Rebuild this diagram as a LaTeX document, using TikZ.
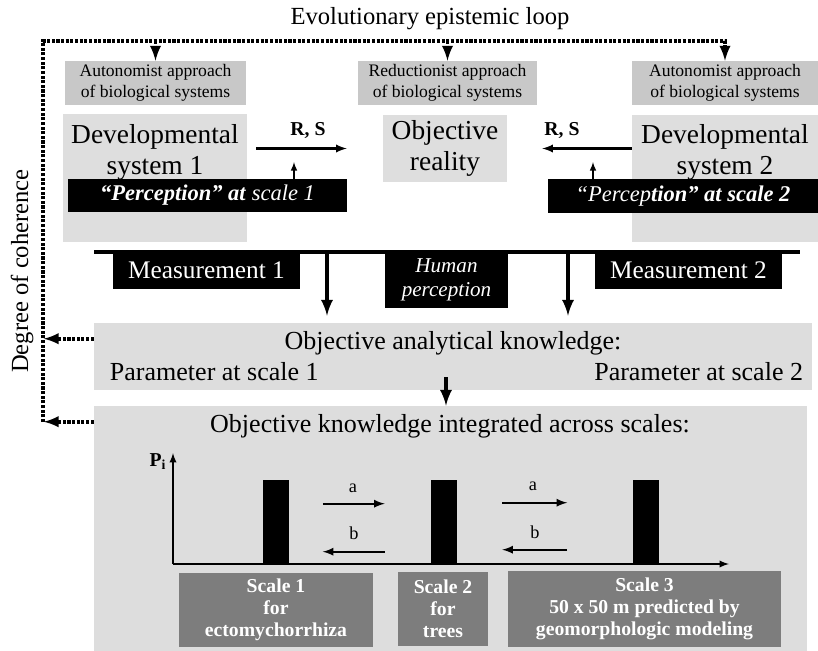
\documentclass[tikz,border=0pt]{standalone}
\usepackage{fontspec}
\setmainfont{Liberation Serif}
\newlength\pxu
\setlength\pxu{0.025cm}
\definecolor{apprgray}{RGB}{200,200,200}
\definecolor{devgray}{RGB}{222,222,222}
\definecolor{knowgray}{RGB}{221,221,221}
\definecolor{scalegray}{RGB}{125,125,125}
\tikzset{
  apprbox/.style={fill=apprgray, inner sep=0pt, align=center, font=\fontsize{12.5}{15}\selectfont},
  devbox/.style={fill=devgray, inner sep=0pt},
  bigtext/.style={align=center, font=\fontsize{19.5}{22}\selectfont},
  blackbox/.style={fill=black, text=white, inner sep=0pt, align=center},
  knowbox/.style={fill=knowgray, inner sep=0pt},
  knowtext/.style={font=\fontsize{18.5}{21}\selectfont},
  scalebox/.style={fill=scalegray, text=white, inner sep=0pt, align=center, font=\fontsize{14}{15.8}\selectfont\bfseries},
  bar/.style={fill=black, inner sep=0pt, minimum width=26\pxu, minimum height=84\pxu, anchor=south},
  dotline/.style={line width=2.6pt, dash pattern=on 2.2pt off 1.1pt},
  thinarrow/.style={line width=1.6pt, -latex},
  bigarrow/.style={line width=2.8pt, -latex},
  smalllabel/.style={font=\fontsize{13}{15}\selectfont}
}
\begin{document}
\begin{tikzpicture}[x=0.025cm, y=-0.025cm]
  \useasboundingbox (0,0) rectangle (818,651);

  \node[font=\fontsize{17.5}{20}\selectfont] (title) at (430,19) {Evolutionary epistemic loop};
  \node[rotate=90, font=\fontsize{17.5}{20}\selectfont] (coher) at (22,271) {Degree of coherence};

  % approaches
  \node[apprbox, minimum width=181\pxu, minimum height=44\pxu] (apprL) at (155.5,83) {Autonomist approach\\of biological systems};
  \node[apprbox, minimum width=179\pxu, minimum height=44\pxu] (apprM) at (447.5,83) {Reductionist approach\\of biological systems};
  \node[apprbox, minimum width=186\pxu, minimum height=44\pxu] (apprR) at (725,83) {Autonomist approach\\of biological systems};

  % systems and reality
  \node[devbox, minimum width=184\pxu, minimum height=128\pxu] (dev1) at (155,178) {};
  \node[bigtext] (dev1txt) at (155,152) {Developmental\\system 1};
  \node[devbox, bigtext, minimum width=124\pxu, minimum height=67\pxu] (real) at (445,148.5) {Objective\\reality};
  \node[devbox, minimum width=186\pxu, minimum height=127\pxu] (dev2) at (725,178.5) {};
  \node[bigtext] (dev2txt) at (725,152) {Developmental\\system 2};

  \node[blackbox, minimum width=279\pxu, minimum height=33\pxu, font=\fontsize{16}{18}\selectfont] (perc1) at (207.5,195.5) {\textbf{\textit{“Perception” at}} \textit{scale 1}};
  \node[blackbox, minimum width=270\pxu, minimum height=34\pxu, font=\fontsize{16}{18}\selectfont] (perc2) at (683,196) {\textit{“Percep}\textbf{\textit{tion” at scale 2}}};

  \node[font=\fontsize{14}{16}\selectfont\bfseries] (rs1) at (308,131) {R, S};
  \node[font=\fontsize{14}{16}\selectfont\bfseries] (rs2) at (562,131) {R, S};
  \draw[thinarrow, shorten <=9\pxu, shorten >=36\pxu] (dev1.east |- real.west) -- (real.west);
  \draw[thinarrow, shorten >=35\pxu] (dev2.west |- real.east) -- (real.east);

  \coordinate (up1) at (294,162);
  \coordinate (up2) at (593,162);
  \draw[line width=1.1pt, -latex] (perc1.north -| up1) -- (up1);
  \draw[line width=1.1pt, -latex] (perc2.north -| up2) -- (up2);

  % measurement
  \coordinate (barL) at (94,252);
  \coordinate (barR) at (800,252);
  \draw[line width=3pt] (barL) -- (barR);
  \node[blackbox, anchor=north, minimum width=187\pxu, minimum height=38\pxu, font=\fontsize{18}{20}\selectfont] (meas1) at (206.5,251) {Measurement 1};
  \node[blackbox, anchor=north, minimum width=123\pxu, minimum height=57\pxu, font=\fontsize{15}{16.5}\selectfont\itshape] (human) at (446.5,251) {Human\\perception};
  \node[blackbox, anchor=north, minimum width=187\pxu, minimum height=38\pxu, font=\fontsize{18}{20}\selectfont] (meas2) at (688.5,251) {Measurement 2};

  % knowledge
  \node[knowbox, minimum width=718\pxu, minimum height=67\pxu] (anal) at (453,356.5) {};
  \node[knowtext] (analtxt) at (453,343) {Objective analytical knowledge:};
  \node[knowtext, anchor=west] (par1) at (105,372) {Parameter at scale 1};
  \node[knowtext, anchor=east] (par2) at (808,372) {Parameter at scale 2};

  \coordinate (d1) at (327,252);
  \coordinate (d2) at (568,252);
  \draw[bigarrow, shorten >=7\pxu] (d1) -- (d1 |- anal.north);
  \draw[bigarrow, shorten >=7\pxu] (d2) -- (d2 |- anal.north);

  \node[knowbox, minimum width=713\pxu, minimum height=245\pxu] (integ) at (450.5,528.5) {};
  \node[knowtext] (integtxt) at (450,426) {Objective knowledge integrated across scales:};
  \coordinate (d3) at (446,377);
  \draw[bigarrow] (d3) -- (d3 |- integ.north);

  % axes
  \coordinate (orig) at (173,564);
  \coordinate (ytop) at (173,453);
  \coordinate (xend) at (729,564);
  \draw[line width=1.3pt, -latex] (orig) -- (ytop);
  \draw[line width=1.3pt, -latex] (orig) -- (xend);
  \node[font=\fontsize{14}{16}\selectfont\bfseries] (pi) at (158,462) {P\textsubscript{i}};

  \node[bar] (bar1) at (275.5,564) {};
  \node[bar] (bar2) at (444,564) {};
  \node[bar] (bar3) at (645.5,564) {};

  \node[smalllabel] (a1) at (353,488) {a};
  \node[smalllabel] (b1) at (354,533) {b};
  \node[smalllabel] (a2) at (533,486) {a};
  \node[smalllabel] (b2) at (535,532) {b};
  \draw[thinarrow, shorten <=34\pxu, shorten >=46\pxu] ([yshift=18\pxu]bar1.east) -- ([yshift=18\pxu]bar2.west);
  \draw[thinarrow, shorten <=46\pxu, shorten >=34\pxu] ([yshift=-30\pxu]bar2.west) -- ([yshift=-30\pxu]bar1.east);
  \draw[thinarrow, shorten <=45\pxu, shorten >=65\pxu] ([yshift=19\pxu]bar2.east) -- ([yshift=19\pxu]bar3.west);
  \draw[thinarrow, shorten <=65\pxu, shorten >=45\pxu] ([yshift=-28\pxu]bar3.west) -- ([yshift=-28\pxu]bar2.east);

  % scales
  \node[scalebox, minimum width=194\pxu, minimum height=74\pxu] (sc1) at (276,610) {Scale 1\\for\\ectomychorrhiza};
  \node[scalebox, minimum width=90\pxu, minimum height=74\pxu] (sc2) at (443,609) {Scale 2\\for\\trees};
  \node[scalebox, minimum width=273\pxu, minimum height=76\pxu] (sc3) at (644.5,609) {Scale 3\\50 x 50 m predicted by\\geomorphologic modeling};

  % epistemic loop
  \coordinate (loopT) at (43,41);
  \coordinate (loopB) at (43,422);
  \draw[dotline, -latex] (loopB) -- (loopT) -| (apprR.north);
  \draw[dotline, -latex] (apprL.north |- loopT) -- (apprL.north);
  \draw[dotline, -latex] (apprM.north |- loopT) -- (apprM.north);
  \draw[dotline, -latex] ([yshift=-16\pxu]anal.north west) -- ++(-50,0);
  \draw[dotline, -latex] ([yshift=-16\pxu]integ.north west) -- ++(-50,0);
\end{tikzpicture}
\end{document}
